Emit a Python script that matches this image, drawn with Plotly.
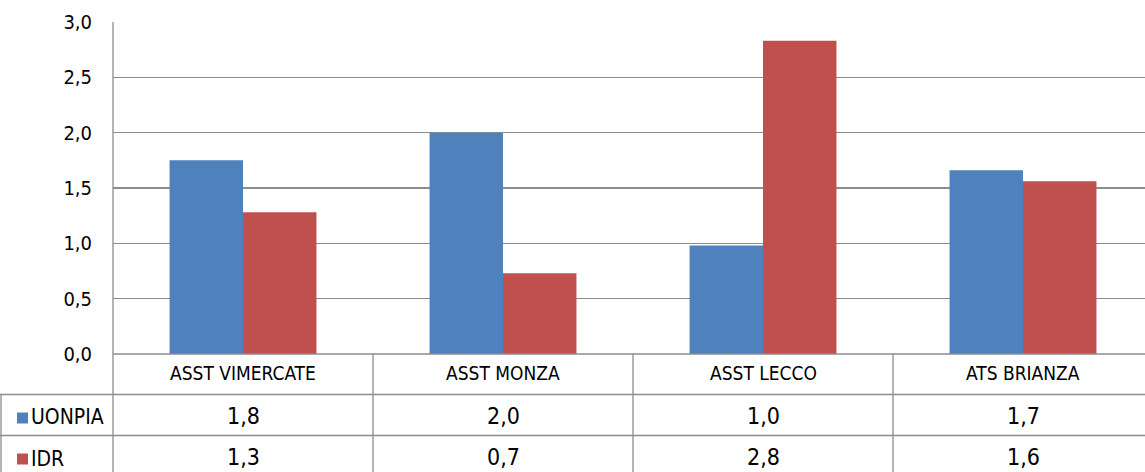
import plotly.graph_objects as go

categories = ["ASST VIMERCATE", "ASST MONZA", "ASST LECCO", "ATS BRIANZA"]
series_names = ["UONPIA", "IDR"]
uonpia = [1.75, 2.00, 0.98, 1.66]
idr = [1.28, 0.73, 2.83, 1.56]
y_ticks = [0.0, 0.5, 1.0, 1.5, 2.0, 2.5, 3.0]

colors = ["#4F81BD", "#C0504D"]
grid_col = "#8C8C8C"
FONT = "DejaVu Sans Condensed, Liberation Sans Narrow, sans-serif"

W, H = 1145, 472


def px_x(x):
    return x / W


def px_y(y):
    return (H - y) / H


fig = go.Figure()
for name, vals, col in zip(series_names, [uonpia, idr], colors):
    fig.add_trace(go.Bar(x=list(range(len(categories))), y=vals, name=name,
                         marker=dict(color=col, line=dict(width=0))))

cat_w = 260.0
x_left = 113.0
fig.update_layout(
    template="none",
    width=W, height=H,
    margin=dict(l=0, r=0, t=0, b=0, pad=0),
    paper_bgcolor="white", plot_bgcolor="white",
    barmode="group", bargap=0.435, bargroupgap=0,
    showlegend=False,
    separators=",.",
    font=dict(family=FONT, color="black"),
    xaxis=dict(domain=[px_x(x_left), 1],
               range=[-0.5, -0.5 + (W - x_left) / cat_w],
               showticklabels=False, showgrid=False, zeroline=False,
               showline=False, fixedrange=True, automargin=False),
    yaxis=dict(domain=[px_y(354), px_y(22)], range=[0, 3],
               tickvals=y_ticks, tickformat=".1f",
               showgrid=True, gridcolor=grid_col, gridwidth=1.3,
               zeroline=False, showline=False, ticks="",
               ticklabelstandoff=20, automargin=False,
               tickfont=dict(size=20, family=FONT, color="black"),
               fixedrange=True),
)

shapes = []
line = dict(color=grid_col, width=1.3)
# left axis line through table
shapes.append(dict(type="line", xref="paper", yref="paper",
                   x0=px_x(x_left), x1=px_x(x_left), y0=px_y(22), y1=0, line=line))
# baseline (x-axis)
shapes.append(dict(type="line", xref="paper", yref="paper",
                   x0=px_x(x_left), x1=1, y0=px_y(354), y1=px_y(354), line=line))
# table row lines
for yy in [394.5, 435.5]:
    shapes.append(dict(type="line", xref="paper", yref="paper",
                       x0=0, x1=1, y0=px_y(yy), y1=px_y(yy), line=line))
# left border of legend cells
shapes.append(dict(type="line", xref="paper", yref="paper",
                   x0=px_x(1), x1=px_x(1), y0=px_y(394.5), y1=0, line=line))
# category separators
for i in range(len(categories) - 1):
    shapes.append(dict(type="line", xref="x", yref="paper",
                       x0=i + 0.5, x1=i + 0.5, y0=px_y(354), y1=0, line=line))
# legend keys
key_rows = [(412.5, 423.5), (453.5, 464.5)]
for col, (ya, yb) in zip(colors, key_rows):
    shapes.append(dict(type="rect", xref="paper", yref="paper",
                       x0=px_x(17), x1=px_x(28), y0=px_y(yb), y1=px_y(ya),
                       fillcolor=col, line=dict(width=0)))
fig.update_layout(shapes=shapes)

annotations = []
for i, c in enumerate(categories):
    annotations.append(dict(x=i, y=px_y(373), xref="x", yref="paper", text=c,
                            showarrow=False, xanchor="center", yanchor="middle",
                            font=dict(size=19, family=FONT, color="black")))
row_centers = [415.5, 456.5]
for vals, yc in zip([uonpia, idr], row_centers):
    for i, v in enumerate(vals):
        annotations.append(dict(x=i, y=px_y(yc), xref="x", yref="paper",
                                text=f"{v:.1f}".replace(".", ","),
                                showarrow=False, xanchor="center", yanchor="middle",
                                font=dict(size=23, family=FONT, color="black")))
for name, yc in zip(series_names, [417, 458.5]):
    annotations.append(dict(x=px_x(28.5), y=px_y(yc), xref="paper", yref="paper",
                            text=name, showarrow=False, xanchor="left", yanchor="middle",
                            font=dict(size=21, family=FONT, color="black")))
fig.update_layout(annotations=annotations)

fig.write_html(
    "out.html",
    config={"displayModeBar": False, "staticPlot": True},
    post_script="document.body.style.margin='0';document.body.style.overflow='hidden';",
)
